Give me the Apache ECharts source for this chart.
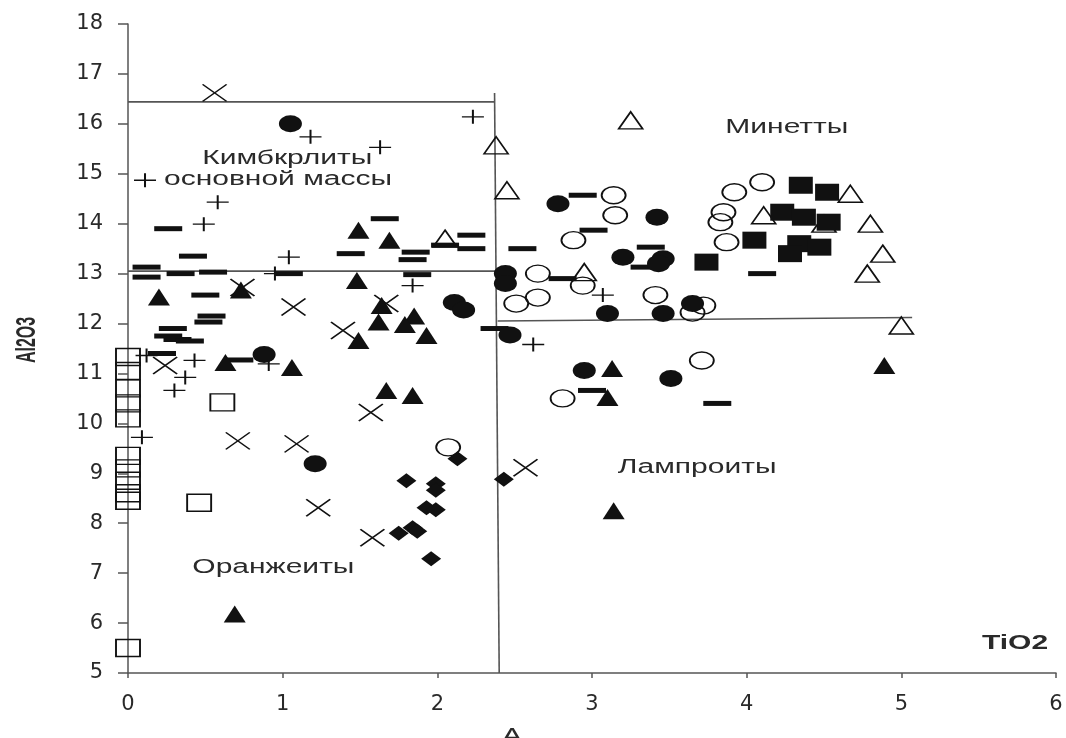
<!DOCTYPE html>
<html>
<head>
<meta charset="utf-8">
<script src="https://cdn.jsdelivr.net/npm/echarts@6/dist/echarts.min.js"></script>
<style>
  html, body { margin: 0; padding: 0; background: #fff; }
  #chart { width: 1066px; height: 738px; }
</style>
</head>
<body>
<div id="chart"></div>
<script>
// TiO2 (x, wt.%) against Al2O3 (y, wt.%), one array per marker style
const filledTriangles = [[0.20,12.53],[0.63,11.22],[0.73,12.67],[1.06,11.12],[1.49,13.87],[1.69,13.67],[1.48,12.86],[1.64,12.36],[1.62,12.03],[1.85,12.15],[1.79,11.98],[1.93,11.76],[1.49,11.66],[1.67,10.66],[1.84,10.56],[0.69,6.18],[3.13,11.10],[3.10,10.52],[4.89,11.16],[3.14,8.25]];
const openTriangles = [[2.38,15.57],[2.45,14.67],[2.05,13.70],[3.25,16.07],[2.95,13.03],[4.11,14.17],[4.67,14.60],[4.50,14.00],[4.80,14.00],[4.88,13.40],[4.78,13.00],[5.00,11.96]];
const filledCircles = [[1.05,16.00],[2.11,12.42],[2.17,12.27],[2.44,13.00],[2.44,12.80],[2.47,11.77],[0.88,11.38],[1.21,9.19],[2.78,14.40],[3.42,14.13],[3.20,13.33],[3.46,13.30],[3.43,13.20],[3.10,12.20],[3.46,12.20],[3.65,12.40],[2.95,11.06],[3.51,10.90]];
const openCircles = [[2.65,13.00],[2.51,12.40],[2.65,12.52],[2.07,9.52],[3.14,14.57],[3.15,14.17],[2.88,13.67],[2.94,12.76],[3.41,12.57],[3.65,12.22],[3.72,12.36],[3.92,14.63],[4.10,14.83],[3.85,14.23],[3.83,14.03],[3.87,13.63],[3.71,11.26],[2.81,10.50]];
const filledSquares = [[3.74,13.23],[4.05,13.67],[4.35,14.77],[4.52,14.63],[4.23,14.23],[4.37,14.13],[4.53,14.03],[4.34,13.60],[4.47,13.53],[4.28,13.40]];
const openSquares = [[0,11.33],[0,11.05],[0,10.70],[0,10.40],[0,10.10],[0,9.35],[0,9.10],[0,8.85],[0,8.60],[0,8.45],[0,5.50],[0.61,10.42],[0.46,8.41]];
const diamonds = [[2.13,9.29],[1.80,8.85],[1.99,8.79],[1.99,8.66],[1.93,8.31],[1.99,8.27],[1.84,7.91],[1.87,7.84],[1.96,7.29],[2.43,8.88],[1.75,7.80]];
const pluses = [[1.18,15.74],[2.23,16.14],[1.63,15.53],[0.11,14.87],[0.58,14.43],[0.49,13.99],[1.04,13.33],[0.95,13.00],[1.84,12.76],[2.62,11.58],[3.07,12.57],[0.12,11.36],[0.43,11.26],[0.37,10.92],[0.30,10.66],[0.91,11.19],[0.09,9.72]];
const crosses = [[0.56,16.62],[0.74,12.72],[1.07,12.33],[1.67,12.40],[1.39,11.86],[0.71,9.65],[1.09,9.59],[1.23,8.31],[1.57,10.22],[1.58,7.71],[2.57,9.11],[0.24,11.16]];
const dashes = [[0.26,13.90],[0.42,13.35],[0.12,13.13],[0.12,12.93],[0.34,13.00],[0.55,13.03],[1.04,13.00],[0.50,12.57],[0.54,12.15],[0.52,12.03],[0.29,11.90],[0.26,11.75],[0.32,11.68],[0.40,11.65],[0.22,11.40],[0.72,11.27],[1.66,14.10],[1.44,13.40],[1.86,13.43],[1.84,13.28],[2.05,13.57],[2.22,13.77],[2.22,13.50],[2.55,13.50],[1.87,12.98],[2.37,11.90],[2.94,14.57],[3.01,13.87],[3.38,13.53],[3.34,13.13],[4.10,13.00],[2.81,12.90],[3.00,10.66],[3.81,10.40]];

// field boundaries
const kimberliteTop = [[0,16.44],[2.37,16.44]];
const kimberliteBase = [[0,13.05],[2.38,13.05]];
const tioDivide = [[2.37,16.62],[2.40,5]];
const lamproiteTop = [[2.39,12.05],[5.07,12.12]];

// field names and their anchor points (TiO2, Al2O3)
const fieldNames = ['Кимбкрлиты', 'основной массы', 'Минетты', 'Лампроиты', 'Оранжеиты'];
const fieldAnchors = [[1.03,15.31],[0.97,14.89],[4.26,15.93],[3.68,9.11],[0.94,7.11]];

const INK = '#111';
const TEXT = '#2a2a2a';

const chart = echarts.init(document.getElementById('chart'), null, { renderer: 'canvas' });

function marks(data, symbol, size, filled, z) {
  return {
    type: 'scatter',
    data: data,
    symbol: symbol,
    symbolSize: size,
    symbolKeepAspect: false,
    z: z || 3,
    silent: true,
    itemStyle: filled
      ? { color: INK, borderWidth: 0, opacity: 1 }
      : { color: 'rgba(0,0,0,0)', borderColor: INK, borderWidth: 1.6, opacity: 1 }
  };
}

function boundary(data) {
  return {
    type: 'line',
    data: data,
    symbol: 'none',
    silent: true,
    z: 2,
    lineStyle: { color: '#555', width: 1.6 }
  };
}

const crossPath = 'path://M0,0L24,17M24,0L0,17';
const plusPath = 'path://M11,0L11,14M0,7L22,7';

chart.setOption({
  backgroundColor: '#fff',
  animation: false,
  grid: { left: 128, right: 10, top: 24, bottom: 65 },
  xAxis: {
    type: 'value', min: 0, max: 6, interval: 1,
    axisLine: { onZero: false, lineStyle: { color: '#555', width: 1.5 } },
    axisTick: { length: 5, lineStyle: { color: '#555', width: 1.5 } },
    axisLabel: { margin: 21, fontSize: 21, fontFamily: 'DejaVu Sans', color: TEXT },
    splitLine: { show: false }
  },
  yAxis: {
    type: 'value', min: 5, max: 18, interval: 1,
    axisLine: { show: true, onZero: false, lineStyle: { color: '#555', width: 1.5 } },
    axisTick: { show: true, length: 10, lineStyle: { color: '#555', width: 1.5 } },
    axisLabel: { margin: 25, fontSize: 21, fontFamily: 'DejaVu Sans', color: TEXT },
    splitLine: { show: false }
  },
  graphic: [
    { type: 'text', x: 28, y: 340, rotation: Math.PI / 2, scaleY: 1.7,
      style: { text: 'Al2O3', fontSize: 16, fontWeight: 'bold', fontFamily: 'Liberation Sans', fill: TEXT, align: 'center', verticalAlign: 'middle' } },
    { type: 'text', x: 1015, y: 643, scaleX: 1.5,
      style: { text: 'TiO2', fontSize: 20, fontWeight: 'bold', fontFamily: 'Liberation Sans', fill: TEXT, align: 'center', verticalAlign: 'middle' } },
    { type: 'text', x: 512, y: 726, scaleX: 1.5,
      style: { text: 'A', fontSize: 20, fontFamily: 'Liberation Sans', fill: TEXT, align: 'center', verticalAlign: 'top' } }
  ],
  series: [
    boundary(kimberliteTop),
    boundary(kimberliteBase),
    boundary(tioDivide),
    boundary(lamproiteTop),
    marks(openSquares, 'rect', [24, 17], false),
    marks(dashes, 'rect', [28, 5], true),
    marks(pluses, plusPath, [22, 14], false),
    marks(crosses, crossPath, [24, 17], false),
    marks(openTriangles, 'triangle', [24, 17], false),
    marks(openCircles, 'circle', [24, 17], false),
    marks(filledSquares, 'rect', [24, 17], true, 4),
    marks(filledTriangles, 'triangle', [22, 17], true, 4),
    marks(filledCircles, 'circle', [23, 17], true, 4),
    marks(diamonds, 'diamond', [20, 15], true, 4),
    {
      type: 'custom',
      silent: true,
      z: 6,
      data: fieldAnchors.map((p, i) => [p[0], p[1], i]),
      renderItem: function (params, api) {
        const pt = api.coord([api.value(0), api.value(1)]);
        return {
          type: 'text',
          x: pt[0], y: pt[1], scaleX: 1.5,
          style: {
            text: fieldNames[api.value(2)],
            fontSize: 20, fontFamily: 'Liberation Sans', fill: TEXT,
            align: 'center', verticalAlign: 'middle'
          }
        };
      }
    }
  ]
});
</script>
</body>
</html>
